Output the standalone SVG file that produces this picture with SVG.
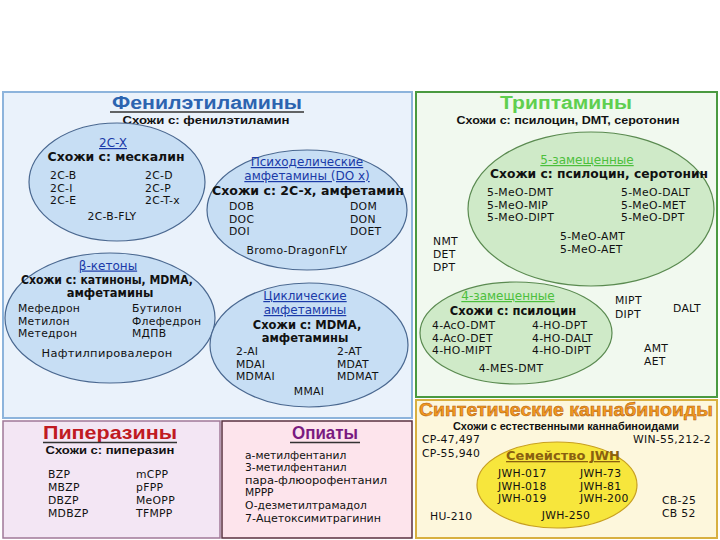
<svg xmlns="http://www.w3.org/2000/svg" width="720" height="540" viewBox="0 0 720 540">
<style>
text{font-family:"DejaVu Sans","Liberation Sans",sans-serif;fill:#111}
.it{font-size:10.8px;letter-spacing:0.3px}
.sm{font-size:10.7px}
.b{font-weight:bold;font-size:11.5px}
.ttl{font-family:"Liberation Sans",Arial,sans-serif;font-weight:900;font-size:18px}
.sub{font-family:"Liberation Sans",Arial,sans-serif;font-weight:900;font-size:11.5px}
.c{text-anchor:middle}
.hb{fill:#1a3aa8;font-size:12px;text-decoration:underline}
.hg{fill:#4cbf3c;font-size:12px;text-decoration:underline}
.eb{fill:#c7def4;stroke:#4a6890;stroke-width:1.2}
.eg{fill:#cfeac8;stroke:#5a8a50;stroke-width:1.2}
.ul{stroke:#333;stroke-width:1.5}
</style>
<rect width="720" height="540" fill="#fff"/>

<g id="phenethylamines">
<rect x="3" y="92" width="409" height="326" fill="#eaf2fb" stroke="#8db4dc" stroke-width="2"/>
<text class="ttl c" x="207" y="109" style="fill:#2c64b0" textLength="190" lengthAdjust="spacingAndGlyphs">Фенилэтиламины</text>
<line class="ul" x1="110" y1="112" x2="304" y2="112"/>
<text class="sub c" x="206" y="124" textLength="167" lengthAdjust="spacingAndGlyphs">Схожи с: фенилэтиламин</text>
</g>

<g id="n2cx">
<ellipse class="eb" cx="117" cy="182" rx="88" ry="59"/>
<text class="hb c" x="113" y="147">2C-X</text>
<text class="b c" x="116" y="161" textLength="137" lengthAdjust="spacingAndGlyphs">Схожи с: мескалин</text>
<text class="it" x="50" y="179">2C-B</text>
<text class="it" x="50" y="191.6">2C-I</text>
<text class="it" x="50" y="204.2">2C-E</text>
<text class="it" x="145" y="179">2C-D</text>
<text class="it" x="145" y="191.6">2C-P</text>
<text class="it" x="145" y="204.2">2C-T-x</text>
<text class="it c" x="112" y="220">2C-B-FLY</text>
</g>

<g id="ndox">
<ellipse class="eb" cx="307" cy="210" rx="100" ry="60"/>
<text class="hb c" x="307" y="166">Психоделические</text>
<text class="hb c" x="307" y="180">амфетамины (DO x)</text>
<text class="b c" x="308" y="194.5" textLength="192" lengthAdjust="spacingAndGlyphs">Схожи с: 2C-х, амфетамин</text>
<text class="it" x="229" y="210">DOB</text>
<text class="it" x="229" y="222.6">DOC</text>
<text class="it" x="229" y="235.2">DOI</text>
<text class="it" x="350" y="210">DOM</text>
<text class="it" x="350" y="222.6">DON</text>
<text class="it" x="350" y="235.2">DOET</text>
<text class="it c" x="297" y="254">Bromo-DragonFLY</text>
</g>

<g id="nbeta">
<ellipse class="eb" cx="110" cy="318" rx="105" ry="65"/>
<text class="hb c" x="108" y="269.5">β-кетоны</text>
<text class="b c" x="107" y="283.5" textLength="172" lengthAdjust="spacingAndGlyphs">Схожи с: катиноны, MDMA,</text>
<text class="b c" x="110" y="297">амфетамины</text>
<text class="it" x="18" y="312">Мефедрон</text>
<text class="it" x="18" y="324.6">Метилон</text>
<text class="it" x="18" y="337.2">Метедрон</text>
<text class="it" x="132" y="312">Бутилон</text>
<text class="it" x="132" y="324.6">Флефедрон</text>
<text class="it" x="132" y="337.2">МДПВ</text>
<text class="it c" x="107" y="357" textLength="131" lengthAdjust="spacingAndGlyphs">Нафтилпировалерон</text>
</g>

<g id="ncyclic">
<ellipse class="eb" cx="309" cy="345" rx="99" ry="62"/>
<text class="hb c" x="305" y="300">Циклические</text>
<text class="hb c" x="305" y="314">амфетамины</text>
<text class="b c" x="307" y="328.5">Схожи с: MDMA,</text>
<text class="b c" x="305" y="342">амфетамины</text>
<text class="it" x="236" y="355">2-AI</text>
<text class="it" x="236" y="367.6">MDAI</text>
<text class="it" x="236" y="380.2">MDMAI</text>
<text class="it" x="337" y="355">2-AT</text>
<text class="it" x="337" y="367.6">MDAT</text>
<text class="it" x="337" y="380.2">MDMAT</text>
<text class="it c" x="309" y="395">MMAI</text>
</g>

<g id="tryptamines">
<rect x="416" y="92" width="301" height="305" fill="#f1f9ef" stroke="#4a9a40" stroke-width="2"/>
<text class="ttl c" x="566" y="109" style="fill:#5fcf4f" textLength="132" lengthAdjust="spacingAndGlyphs">Триптамины</text>
<text class="sub c" x="568" y="124" textLength="223" lengthAdjust="spacingAndGlyphs">Схожи с: псилоцин, DMT, серотонин</text>
<text class="it" x="433" y="245">NMT</text>
<text class="it" x="433" y="258">DET</text>
<text class="it" x="433" y="271">DPT</text>
<text class="it" x="615" y="304">MIPT</text>
<text class="it" x="615" y="318">DIPT</text>
<text class="it" x="673" y="312">DALT</text>
<text class="it" x="644" y="352">AMT</text>
<text class="it" x="644" y="365">AET</text>
</g>

<g id="n5sub">
<ellipse class="eg" cx="591" cy="209" rx="123" ry="77"/>
<text class="hg c" x="587" y="164">5-замещенные</text>
<text class="b c" x="599" y="178" textLength="218" lengthAdjust="spacingAndGlyphs">Схожи с: псилоцин, серотонин</text>
<text class="it" x="487" y="196">5-MeO-DMT</text>
<text class="it" x="487" y="208.6">5-MeO-MIP</text>
<text class="it" x="487" y="221.2">5-MeO-DIPT</text>
<text class="it" x="621" y="196">5-MeO-DALT</text>
<text class="it" x="621" y="208.6">5-MeO-MET</text>
<text class="it" x="621" y="221.2">5-MeO-DPT</text>
<text class="it" x="560" y="240">5-MeO-AMT</text>
<text class="it" x="560" y="252.6">5-MeO-AET</text>
</g>

<g id="n4sub">
<ellipse class="eg" cx="516" cy="333" rx="96" ry="51"/>
<text class="hg c" x="508" y="300">4-замещенные</text>
<text class="b c" x="513" y="314.5">Схожи с: псилоцин</text>
<text class="it" x="432" y="329">4-AcO-DMT</text>
<text class="it" x="432" y="341.6">4-AcO-DET</text>
<text class="it" x="432" y="354.2">4-HO-MIPT</text>
<text class="it" x="532" y="329">4-HO-DPT</text>
<text class="it" x="532" y="341.6">4-HO-DALT</text>
<text class="it" x="532" y="354.2">4-HO-DIPT</text>
<text class="it c" x="511" y="372">4-MES-DMT</text>
</g>

<g id="cannabinoids">
<rect x="416" y="400" width="301" height="138" fill="#fdf7dc" stroke="#d8b040" stroke-width="2"/>
<text class="ttl c" x="566" y="416" style="fill:#f29a1e;stroke:#b35a10;stroke-width:0.5" textLength="294" lengthAdjust="spacingAndGlyphs">Синтетические каннабиноиды</text>
<text class="sub c" x="566" y="430" style="font-size:11px" textLength="226" lengthAdjust="spacingAndGlyphs">Схожи с естественными каннабиноидами</text>
<text class="it" x="422" y="443">CP-47,497</text>
<text class="it" x="422" y="457">CP-55,940</text>
<text class="it" x="633" y="443">WIN-55,212-2</text>
<text class="it" x="430" y="520">HU-210</text>
<text class="it" x="662" y="504">CB-25</text>
<text class="it" x="662" y="517">CB 52</text>
</g>

<g id="njwh">
<ellipse cx="557" cy="485" rx="80" ry="43" fill="#f7e63c" stroke="#c8a020" stroke-width="1.2"/>
<text class="b c" x="563" y="460" style="fill:#8a6010;font-size:13px;text-decoration:underline">Семейство JWH</text>
<text class="it" x="498" y="477">JWH-017</text>
<text class="it" x="498" y="489.6">JWH-018</text>
<text class="it" x="498" y="502.2">JWH-019</text>
<text class="it" x="580" y="477">JWH-73</text>
<text class="it" x="580" y="489.6">JWH-81</text>
<text class="it" x="580" y="502.2">JWH-200</text>
<text class="it c" x="566" y="519">JWH-250</text>
</g>

<g id="piperazines">
<rect x="3" y="421" width="217" height="117" fill="#f3e6f4" stroke="#a07898" stroke-width="1.5"/>
<text class="ttl c" x="110" y="439" style="fill:#c01a22;font-size:19px" textLength="134" lengthAdjust="spacingAndGlyphs">Пиперазины</text>
<line class="ul" x1="43" y1="442.5" x2="177" y2="442.5"/>
<text class="sub c" x="110" y="454" style="font-size:11px" textLength="129" lengthAdjust="spacingAndGlyphs">Схожи с: пиперазин</text>
<text class="it" x="48" y="478">BZP</text>
<text class="it" x="48" y="491">MBZP</text>
<text class="it" x="48" y="504">DBZP</text>
<text class="it" x="48" y="517">MDBZP</text>
<text class="it" x="136" y="478">mCPP</text>
<text class="it" x="136" y="491">pFPP</text>
<text class="it" x="136" y="504">MeOPP</text>
<text class="it" x="136" y="517">TFMPP</text>
</g>

<g id="opiates">
<rect x="222" y="421" width="190" height="117" fill="#fde4ec" stroke="#5a3040" stroke-width="1.5"/>
<text class="ttl c" x="325" y="439" style="fill:#7a1a80;font-size:19px" textLength="66" lengthAdjust="spacingAndGlyphs">Опиаты</text>
<line class="ul" x1="290" y1="442.5" x2="360" y2="442.5"/>
<text class="sm" x="245" y="458.5">а-метилфентанил</text>
<text class="sm" x="245" y="471.1">3-метилфентанил</text>
<text class="sm" x="245" y="483.7" textLength="142" lengthAdjust="spacingAndGlyphs">пара-флюорофентанил</text>
<text class="sm" x="245" y="496.3">MPPP</text>
<text class="sm" x="245" y="508.9">O-дезметилтрамадол</text>
<text class="sm" x="245" y="521.5" textLength="136" lengthAdjust="spacingAndGlyphs">7-Ацетоксимитрагинин</text>
</g>

<g id="connectors"></g>
</svg>
